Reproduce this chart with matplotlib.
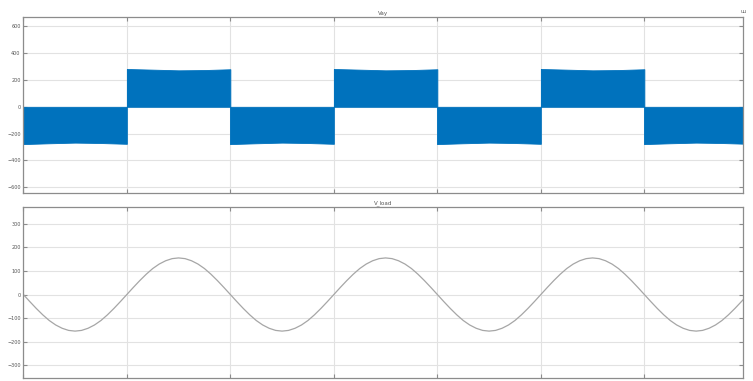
import numpy as np
import matplotlib
matplotlib.use("Agg")
import matplotlib.pyplot as plt

# time axis: one grid division = 10 ms (50 Hz output, 20 ms period)
t_end = 0.0695
half_period = 0.01

# Vay: sign of each half period and its PWM envelope (5 readings per half period)
vay_sign = [-1, 1, -1, 1, -1, 1, -1]
vay_env_pos = [282, 277, 272, 274, 280]
vay_env_neg = [-278, -272, -267, -270, -276]

# V_load read every 1/16 division (0.625 ms), starting at t = 0
vload_half = [0, -30, -59, -86, -110, -129, -143, -152,
              -155, -152, -143, -129, -110, -86, -59, -30]
vload_period = vload_half + [-v for v in vload_half]
vload = vload_period * 3 + vload_half + [0]

top_ticks = [600, 400, 200, 0, -200, -400, -600]
bot_ticks = [300, 200, 100, 0, -100, -200, -300]

blue = "#0072BD"
grid_c = "#e2e2e2"
spine_c = "#8c8c8c"
label_c = "#555555"


def style_axes(ax, yticks, ylim, title):
    ax.set_xlim(0, t_end)
    ax.set_ylim(ylim)
    ax.set_xticks(np.arange(0, t_end, half_period))
    ax.set_yticks(yticks)
    ax.set_xticklabels([])
    ax.tick_params(direction="in", length=3, width=0.8, color=spine_c,
                   top=True, right=True, labelsize=3.5, labelcolor=label_c, pad=2)
    ax.grid(True, color=grid_c, lw=0.8)
    ax.set_axisbelow(True)
    for s in ax.spines.values():
        s.set_color(spine_c)
        s.set_linewidth(0.9)
    ax.set_title(title, fontsize=4, color=label_c, pad=2)


fig = plt.figure(figsize=(7.53, 3.81), dpi=100)
ax1 = fig.add_axes([0.0310, 0.4926, 0.9553, 0.4619])
ax2 = fig.add_axes([0.0310, 0.0070, 0.9553, 0.4505])

for i, sgn in enumerate(vay_sign):
    env = vay_env_pos if sgn > 0 else vay_env_neg
    t0 = i * half_period
    tt = np.linspace(t0, t0 + half_period, len(env))
    ax1.fill_between(tt, 0, env, color=blue, lw=0.6, edgecolor=blue)
    ax1.plot([t0, t0], [0, env[0]], color=blue, lw=0.6)

style_axes(ax1, top_ticks, (-645, 667), "Vay")

tl = np.arange(len(vload)) * half_period / 16
ax2.plot(tl, vload, color="#a6a6a6", lw=0.9)
style_axes(ax2, bot_ticks, (-355, 372), "V_load")

fig.text(0.984, 0.965, "uu", fontsize=3.5, color=label_c)

fig.savefig("out.png", dpi=100)
